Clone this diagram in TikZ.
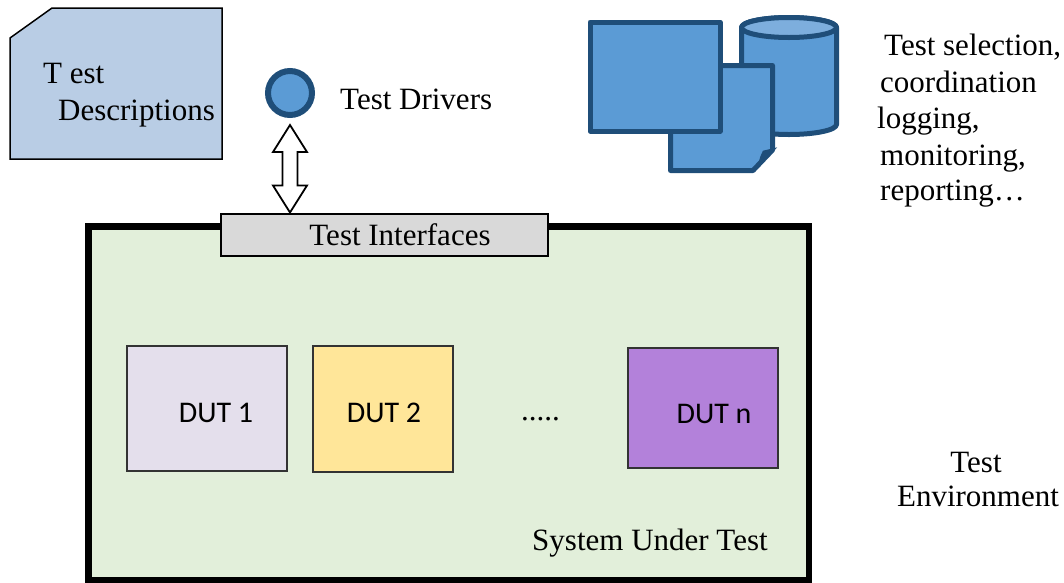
\documentclass[tikz,border=0pt]{standalone}
\usepackage{fontspec}
\setmainfont{Liberation Serif}
\newfontfamily\dutfont{Carlito}
\usetikzlibrary{calc}
\definecolor{docblue}{HTML}{B9CDE5}
\definecolor{dkblue}{HTML}{1F4E79}
\definecolor{midblue}{HTML}{5B9BD5}
\definecolor{ltblue}{HTML}{7DAEDD}
\definecolor{sutgreen}{HTML}{E2EFDA}
\definecolor{tigray}{HTML}{D9D9D9}
\definecolor{dutone}{HTML}{E4DFEC}
\definecolor{duttwo}{HTML}{FFE699}
\definecolor{dutn}{HTML}{B381DA}
\begin{document}
\begin{tikzpicture}[x=1pt,y=-1pt,
  lbl/.style={font=\fontsize{31}{36}\selectfont, inner sep=0, anchor=base west},
  clbl/.style={font=\fontsize{31}{36}\selectfont, inner sep=0, anchor=base},
  dlbl/.style={font=\dutfont\fontsize{30}{34}\selectfont, inner sep=0, anchor=base},
  dutbox/.style={draw=black!80, line width=1.5, inner sep=0},
  icon/.style={draw=dkblue, line width=5, line join=round, fill=midblue},
  arrowshape/.style={draw=black, line width=1.8, fill=white, line join=miter}]
\useasboundingbox (0,0) rectangle (1064,582);

% Test descriptions document
\draw[fill=docblue, draw=black, line width=1.5] (10,38) -- (52,8) -- (222,8) -- (222,159) -- (10,159) -- cycle;
\node[lbl] (tdesc1) at (43,83) {T est};
\node[lbl] (tdesc2) at (58,120) {Descriptions};

% Test driver
\node[circle, draw=dkblue, fill=midblue, line width=6, minimum size=44, inner sep=0] (drv) at (290,93) {};
\node[lbl] (drvlbl) at (340,109) {Test Drivers};

% Icons
\draw[icon] (741.5,27.5) -- (741.5,124.5) arc[start angle=180, end angle=0, x radius=47.5, y radius=10] -- (836.5,27.5) arc[start angle=0, end angle=-180, x radius=47.5, y radius=10] -- cycle;
\draw[icon, fill=ltblue] (789,27.5) ellipse[x radius=47.5, y radius=10];
\draw[icon] (670.5,65.5) -- (772.5,65.5) -- (772.5,150) -- (753,170.5) -- (670.5,170.5) -- cycle;
\draw[draw=dkblue, line width=3, fill=dkblue] (772.5,150) -- (764,152) .. controls (762,156) .. (760,163) -- cycle;
\draw[icon] (590,22) rectangle (720,131);

% right text
\node[lbl] (r1) at (884,55) {Test selection,};
\node[lbl] (r2) at (880,92) {coordination};
\node[lbl] (r3) at (877,128) {logging,};
\node[lbl] (r4) at (880,165) {monitoring,};
\node[lbl] (r5) at (880,200) {reporting…};

\node[clbl] (env1) at (976,472) {Test};
\node[clbl] (env2) at (978,506) {Environment};

% System under test
\node[draw=black, fill=sutgreen, line width=6.5, minimum width=720.5, minimum height=353.5, inner sep=0] (sut) at (448.75,403.25) {};
\node[draw=black, fill=tigray, line width=2, minimum width=327, minimum height=42, inner sep=0] (ti) at (384,234.5) {};
\node[clbl] (tilbl) at (400,245) {Test Interfaces};

% double arrow
\coordinate (atop) at ($(drv.south)+(0,7)$);
\coordinate (abot) at (atop |- ti.north);
\draw[arrowshape] (atop) -- ++(17,27) -- ++(-9.5,0) -- ($(abot)+(7.5,-27)$) -- ++(9.5,0) -- (abot) -- ++(-17,-27) -- ++(9.5,0) -- ($(atop)+(-7.5,27)$) -- ++(-9.5,0) -- cycle;

% DUTs
\node[dutbox, fill=dutone, minimum width=160, minimum height=125] (d1) at (207,408.5) {};
\node[dutbox, fill=duttwo, minimum width=140, minimum height=126] (d2) at (383,409) {};
\node[dutbox, fill=dutn, minimum width=150, minimum height=120] (dn) at (703,408) {};
\node[dlbl] (d1l) at (216,422) {DUT 1};
\node[dlbl] (d2l) at (384,422) {DUT 2};
\node[dlbl] (dnl) at (714,423) {DUT n};
\node[lbl] (dots) at (521,420) {.....};

\node[lbl] (sutlbl) at (532,550) {System Under Test};
\end{tikzpicture}
\end{document}
